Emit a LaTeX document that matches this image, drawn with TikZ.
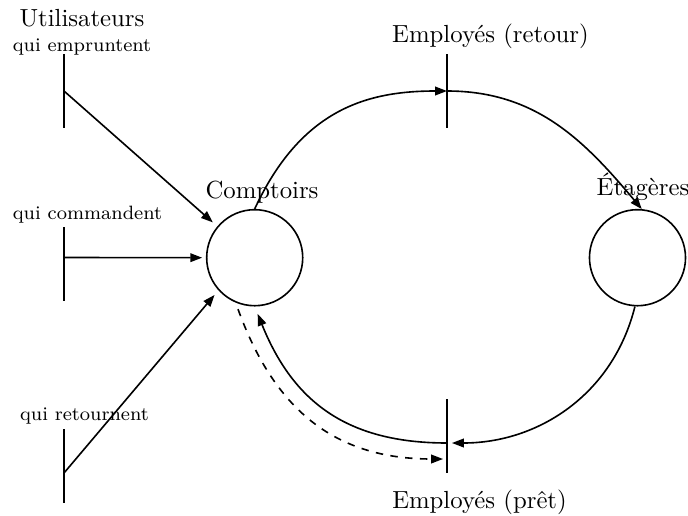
\documentclass[tikz,border=0pt]{standalone}
\usetikzlibrary{arrows.meta}
\begin{document}
\begin{tikzpicture}[x=0.404pt,y=0.404pt,line width=0.65pt,
  tip/.style={-{Triangle[length=4.8pt,width=3.5pt]}},
  place/.style={circle,draw,minimum size=38.8pt,inner sep=0pt},
  lbl/.style={anchor=base,inner sep=0pt},
  smalllbl/.style={lbl,font=\fontsize{7.8}{9.4}\selectfont}]
\useasboundingbox (0,0) rectangle (688,515);
% places
\node[place] (C) at (254.7,257.3) {};
\node[place] (E) at (637.5,257.3) {};
% bars
\coordinate (L1t) at (64,461); \coordinate (L1b) at (64,387); \coordinate (L1m) at (64,424);
\coordinate (L2t) at (64,288); \coordinate (L2b) at (64,214); \coordinate (L2m) at (64,257.5);
\coordinate (L3t) at (64,86);  \coordinate (L3b) at (64,12);  \coordinate (L3m) at (64,42);
\coordinate (Tt) at (447,461); \coordinate (Tb) at (447,387); \coordinate (Tm) at (447,424);
\coordinate (Bt) at (447,116); \coordinate (Bb) at (447,42);  \coordinate (Bm) at (447,72);
\coordinate (Bd) at (447,56);
\draw (L1t) -- (L1b);
\draw (L2t) -- (L2b);
\draw (L3t) -- (L3b);
\draw (Tt) -- (Tb);
\draw (Bt) -- (Bb);
% labels
\node[lbl] (uti) at (82,489) {Utilisateurs};
\node[smalllbl] (emp) at (82,463.3) {qui empruntent};
\node[smalllbl] (com) at (87.5,296) {qui commandent};
\node[smalllbl] (ret) at (84.5,94.3) {qui retournent};
\node[lbl] (lc) at (262,317) {Comptoirs};
\node[lbl] (le) at (643,320) {Étagères};
\node[lbl] (lr) at (490.5,472.3) {Employés (retour)};
\node[lbl] (lp) at (479.5,7) {Employés (prêt)};
% connectors
\draw[tip,shorten >=2.4pt] (L1m) -- (C.140);
\draw[tip,shorten >=1.5pt] (L2m) -- (C.west);
\draw[tip,shorten >=2.4pt] (L3m) -- (C.222);
\draw[tip] (C.north) to[out=65,in=180,out looseness=1.25,in looseness=0.91] (Tm);
\draw[tip] (Tm) to[out=0,in=130] (E.85);
\draw[tip,shorten >=2pt] (E.-93) to[out=256,in=0] (Bm);
\draw[tip,shorten >=3.2pt] (Bm) to[out=180,in=-68,looseness=1.1] (C.south);
\draw[tip,dashed,shorten <=2.8pt,shorten >=1.6pt] (C.247) to[out=-70,in=180,looseness=1.1] (Bd);
\end{tikzpicture}
\end{document}
